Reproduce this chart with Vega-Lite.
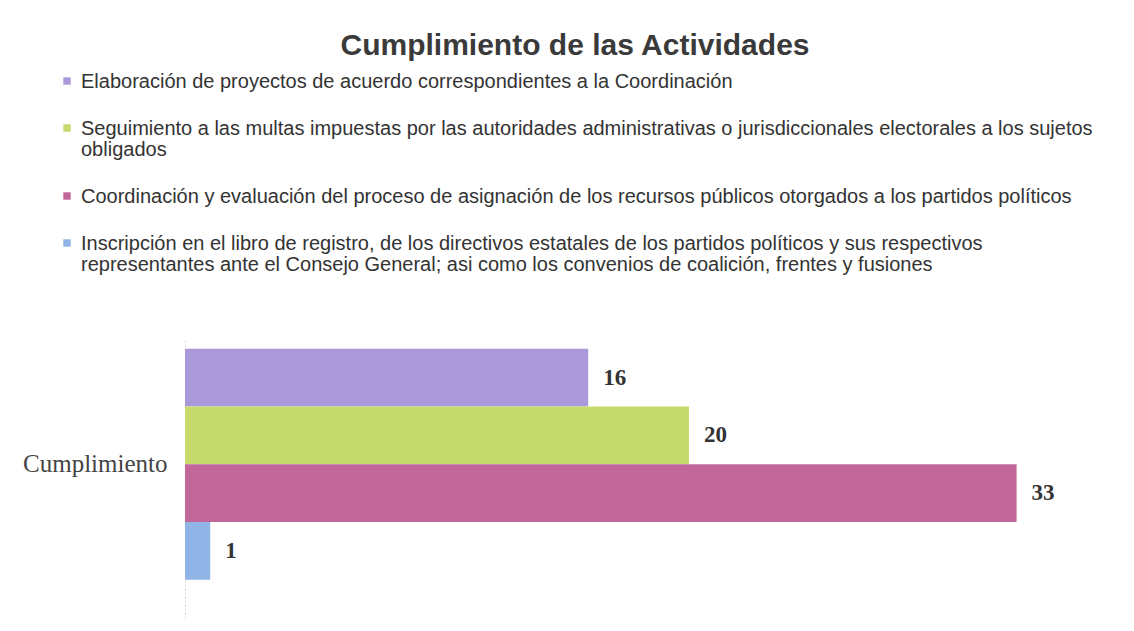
{
  "$schema": "https://vega.github.io/schema/vega-lite/v6.json",
  "autosize": {"type": "none"},
  "width": 882,
  "height": 280,
  "padding": {"left": 185, "top": 340, "right": 67, "bottom": 11},
  "background": "white",
  "title": {
    "text": "Cumplimiento de las Actividades",
    "anchor": "middle",
    "frame": "group",
    "dx": -51,
    "offset": 10,
    "font": "Liberation Sans",
    "fontSize": 30,
    "fontWeight": "bold",
    "color": "#3a3a3a"
  },
  "data": {
    "values": [
      {"grupo": "Cumplimiento", "actividad": "Elaboración de proyectos de acuerdo correspondientes a la Coordinación", "valor": 16},
      {"grupo": "Cumplimiento", "actividad": "Seguimiento a las multas impuestas por las autoridades administrativas o jurisdiccionales electorales a los sujetos obligados", "valor": 20},
      {"grupo": "Cumplimiento", "actividad": "Coordinación y evaluación del proceso de asignación de los recursos públicos otorgados a los partidos políticos", "valor": 33},
      {"grupo": "Cumplimiento", "actividad": "Inscripción en el libro de registro, de los directivos estatales de los partidos políticos y sus respectivos representantes ante el Consejo General; asi como los convenios de coalición, frentes y fusiones", "valor": 1}
    ]
  },
  "encoding": {
    "y": {
      "field": "grupo",
      "type": "nominal",
      "title": null,
      "scale": {"paddingInner": 0, "paddingOuter": 0.106, "align": 0.18},
      "axis": {
        "ticks": false,
        "domain": true,
        "domainColor": "#d8d8d8",
        "domainDash": [2, 2],
        "labelFont": "Liberation Serif",
        "labelFontSize": 25,
        "labelColor": "#444",
        "labelPadding": 18
      }
    },
    "x": {
      "field": "valor",
      "type": "quantitative",
      "scale": {"domain": [0, 35]},
      "axis": null
    },
    "yOffset": {
      "field": "actividad",
      "type": "nominal",
      "sort": null,
      "scale": {"paddingInner": 0, "paddingOuter": 0}
    }
  },
  "layer": [
    {
      "mark": {"type": "bar"},
      "encoding": {
        "color": {
          "field": "actividad",
          "type": "nominal",
          "sort": null,
          "scale": {"range": ["#a999db", "#c6db6b", "#c3679b", "#90b4e5"]},
          "legend": {
            "title": null,
            "orient": "none",
            "legendX": -128,
            "legendY": -269,
            "symbolType": "square",
            "symbolSize": 55,
            "symbolStrokeWidth": 0,
            "labelFont": "Liberation Sans",
            "labelFontSize": 20,
            "labelColor": "#333",
            "labelLimit": 1200,
            "labelOffset": 4,
            "labelBaseline": "top",
            "rowPadding": 26,
            "encode": {"labels": {"update": {"dy": {"value": -9}, "lineHeight": {"value": 21}}}},
            "labelExpr": "indexof(datum.label, 'sujetos obligados') > 0 ? [replace(datum.label, ' obligados', ''), 'obligados'] : (indexof(datum.label, ' representantes') > 0 ? [slice(datum.label, 0, indexof(datum.label, ' representantes')), slice(datum.label, indexof(datum.label, ' representantes') + 1)] : datum.label)"
          }
        }
      }
    },
    {
      "mark": {
        "type": "text",
        "align": "left",
        "baseline": "middle",
        "dx": 15,
        "font": "Liberation Serif",
        "fontSize": 23,
        "fontWeight": "bold",
        "color": "#333"
      },
      "encoding": {
        "text": {"field": "valor", "type": "quantitative"}
      }
    }
  ],
  "config": {
    "view": {"stroke": null}
  }
}
